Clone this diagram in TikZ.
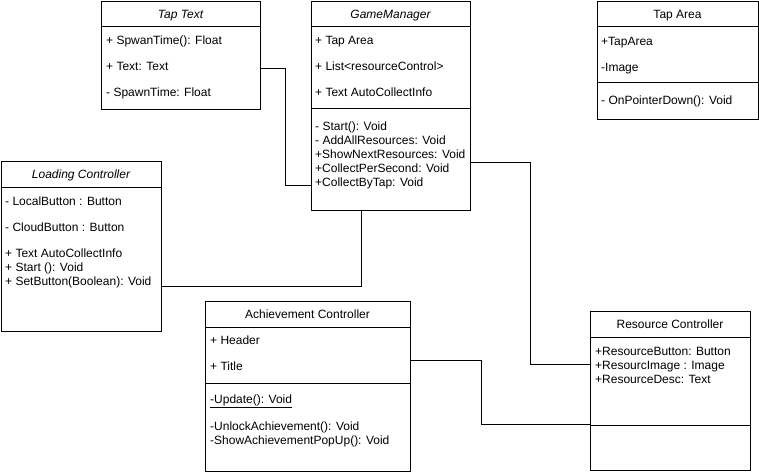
\documentclass[tikz,border=0pt]{standalone}
\usepackage{fontspec}
\setmainfont{Liberation Sans}
\begin{document}
\begin{tikzpicture}[x=1pt,y=-1pt,
  classbox/.style={draw=black, line width=1pt, fill=white, inner sep=0pt, anchor=north west},
  title/.style={anchor=base, inner sep=0pt, font=\fontsize{12}{14}\selectfont},
  ititle/.style={anchor=base, inner sep=0pt, font=\fontsize{12}{14}\selectfont\itshape},
  member/.style={anchor=base west, inner sep=0pt, font=\fontsize{12}{14}\selectfont},
  sep/.style={line width=1pt},
  link/.style={line width=1pt}]
\useasboundingbox (0,0) rectangle (759,474);

% ---------- Tap Text ----------
\node[classbox, minimum width=159pt, minimum height=108pt] (taptext) at (101,1) {};
\node[ititle] (taptextT) at (180.5,18) {Tap Text};
\draw[sep] (taptext.west |- 0,26) -- (taptext.east |- 0,26);
\node[member] (tt1) at (106,44) {+ SpwanTime(): Float};
\node[member] (tt2) at (106,70) {+ Text: Text};
\node[member] (tt3) at (106,96) {- SpawnTime: Float};

% ---------- GameManager ----------
\node[classbox, minimum width=159pt, minimum height=209pt] (gm) at (311,1) {};
\node[ititle] (gmT) at (390.5,18) {GameManager};
\draw[sep] (gm.west |- 0,26) -- (gm.east |- 0,26);
\draw[sep] (gm.west |- 0,108) -- (gm.east |- 0,108);
\node[member] (gm1) at (315,44) {+ Tap Area};
\node[member] (gm2) at (315,70) {+ List<resourceControl>};
\node[member] (gm3) at (315,96) {+ Text AutoCollectInfo};
\node[member] (gm4) at (315,130) {- Start(): Void};
\node[member] (gm5) at (315,144) {- AddAllResources: Void};
\node[member] (gm6) at (315,158) {+ShowNextResources: Void};
\node[member] (gm7) at (315,172) {+CollectPerSecond: Void};
\node[member] (gm8) at (315,186) {+CollectByTap: Void};

% ---------- Tap Area ----------
\node[classbox, minimum width=161pt, minimum height=118pt] (taparea) at (597,1) {};
\node[title] (taT) at (677.5,18) {Tap Area};
\draw[sep] (taparea.west |- 0,26) -- (taparea.east |- 0,26);
\draw[sep] (taparea.west |- 0,82) -- (taparea.east |- 0,82);
\node[member] (ta1) at (601,45) {+TapArea};
\node[member] (ta2) at (601,71) {-Image};
\node[member] (ta3) at (601,104) {- OnPointerDown(): Void};

% ---------- Loading Controller ----------
\node[classbox, minimum width=160pt, minimum height=170pt] (loading) at (1,161) {};
\node[ititle] (lcT) at (81,178.5) {Loading Controller};
\draw[sep] (loading.west |- 0,187) -- (loading.east |- 0,187);
\node[member] (lc1) at (5,205) {- LocalButton : Button};
\node[member] (lc2) at (5,231) {- CloudButton : Button};
\node[member] (lc3) at (5,257) {+ Text AutoCollectInfo};
\node[member] (lc4) at (5,271) {+ Start (): Void};
\node[member] (lc5) at (5,285) {+ SetButton(Boolean): Void};

% ---------- Achievement Controller ----------
\node[classbox, minimum width=205pt, minimum height=170pt] (achv) at (205,301) {};
\node[title] (acT) at (307.5,318.5) {Achievement Controller};
\draw[sep] (achv.west |- 0,327) -- (achv.east |- 0,327);
\draw[sep] (achv.west |- 0,383) -- (achv.east |- 0,383);
\node[member] (ac1) at (210,344) {+ Header};
\node[member] (ac2) at (210,370) {+ Title};
\node[member] (ac3) at (210,403) {\underline{-Update(): Void}};
\node[member] (ac4) at (210,430) {-UnlockAchievement(): Void};
\node[member] (ac5) at (210,444) {-ShowAchievementPopUp(): Void};

% ---------- Resource Controller ----------
\node[classbox, minimum width=160pt, minimum height=159pt] (resource) at (590,311) {};
\node[title] (rcT) at (670,328.5) {Resource Controller};
\draw[sep] (resource.west |- 0,337) -- (resource.east |- 0,337);
\draw[sep] (resource.west |- 0,425) -- (resource.east |- 0,425);
\node[member] (rc1) at (595,355) {+ResourceButton: Button};
\node[member] (rc2) at (595,369) {+ResourcImage : Image};
\node[member] (rc3) at (595,383) {+ResourceDesc: Text};

% ---------- Connectors ----------
\draw[link] (taptext.east |- 0,68) -| (285,185) -- (gm.west |- 0,185);
\draw[link] (loading.east |- 0,286) -| (gm.south -| 361,0);
\draw[link] (gm.east |- 0,162) -| (530,364) -- (resource.west |- 0,364);
\draw[link] (achv.east |- 0,360) -| (481,424) -- (resource.west |- 0,424);
\end{tikzpicture}
\end{document}
